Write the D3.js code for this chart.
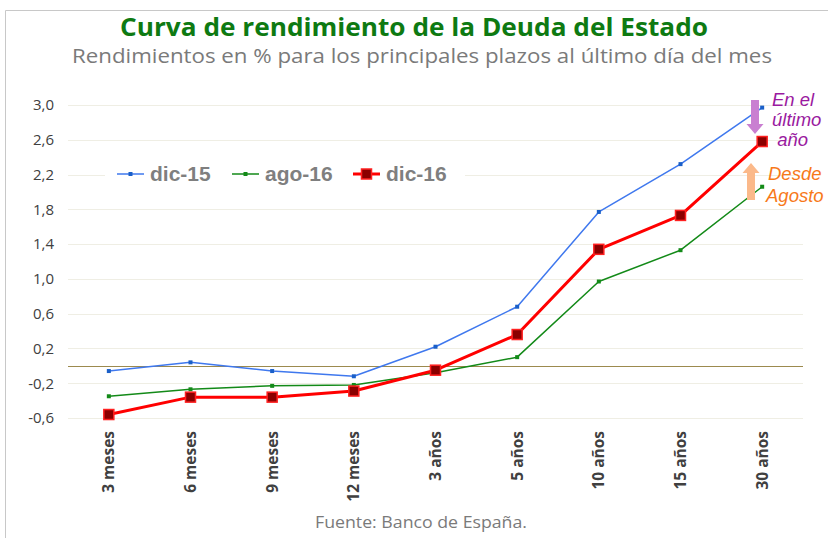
<!DOCTYPE html>
<html>
<head>
<meta charset="utf-8">
<script src="https://cdn.jsdelivr.net/npm/d3@7"></script>
<style>
  body { margin: 0; background: #fff; }
  svg { display: block; }
</style>
</head>
<body>
<div id="chart"></div>
<script>
// plazos y rendimientos (%)
const plazos = ["3 meses", "6 meses", "9 meses", "12 meses", "3 años", "5 años", "10 años", "15 años", "30 años"];
const dic15 = [-0.06, 0.04, -0.06, -0.12, 0.22, 0.68, 1.77, 2.32, 2.97];
const ago16 = [-0.35, -0.27, -0.23, -0.22, -0.08, 0.10, 0.97, 1.33, 2.06];
const dic16 = [-0.56, -0.36, -0.36, -0.29, -0.05, 0.36, 1.34, 1.73, 2.58];
const yTicks = [3.0, 2.6, 2.2, 1.8, 1.4, 1.0, 0.6, 0.2, -0.2, -0.6];

const width = 828, height = 538;
const plot = { left: 68, right: 803, top: 105, bottom: 418 };

const svg = d3.select("#chart").append("svg")
  .attr("width", width)
  .attr("height", height);

// marco
svg.append("path")
  .attr("d", `M5.5,${height} V10.5 H${width}`)
  .attr("fill", "none")
  .attr("stroke", "#c8c8c8")
  .attr("stroke-width", 1);

const x = d3.scaleBand().domain(plazos).range([plot.left, plot.right]);
const y = d3.scaleLinear().domain([-0.6, 3.0]).range([plot.bottom, plot.top]);
const cx = d => x(d) + x.bandwidth() / 2;

// titulos
svg.append("text")
  .attr("x", 414).attr("y", 36)
  .attr("text-anchor", "middle")
  .attr("font-family", "'Open Sans', sans-serif")
  .attr("font-weight", "bold")
  .attr("font-size", 25)
  .attr("textLength", 588)
  .attr("lengthAdjust", "spacingAndGlyphs")
  .attr("fill", "#0e7a12")
  .text("Curva de rendimiento de la Deuda del Estado");

svg.append("text")
  .attr("x", 422).attr("y", 63)
  .attr("text-anchor", "middle")
  .attr("font-family", "'Open Sans', sans-serif")
  .attr("font-size", 20.5)
  .attr("textLength", 700)
  .attr("lengthAdjust", "spacingAndGlyphs")
  .attr("fill", "#7a7a7a")
  .text("Rendimientos en % para los principales plazos al último día del mes");

// rejilla
svg.append("g")
  .selectAll("line")
  .data(yTicks)
  .join("line")
  .attr("x1", plot.left).attr("x2", plot.right)
  .attr("y1", d => Math.round(y(d)) + 0.5)
  .attr("y2", d => Math.round(y(d)) + 0.5)
  .attr("stroke", "#efeee4")
  .attr("stroke-width", 1);

// eje Y
const yAxis = svg.append("g")
  .attr("transform", `translate(${plot.left},0)`)
  .call(d3.axisLeft(y).tickValues(yTicks).tickSize(0).tickPadding(14)
    .tickFormat(d => d3.format(".1f")(d).replace(".", ",").replace("−", "-")));
yAxis.select(".domain").remove();
yAxis.selectAll("text")
  .attr("font-family", "'Open Sans', sans-serif")
  .attr("font-size", 15)
  .attr("fill", "#404040");

// línea de cero
svg.append("line")
  .attr("x1", plot.left).attr("x2", plot.right)
  .attr("y1", Math.round(y(0)) + 0.5).attr("y2", Math.round(y(0)) + 0.5)
  .attr("stroke", "#9c8a4e")
  .attr("stroke-width", 1);

// eje X
const xAxis = svg.append("g")
  .attr("transform", `translate(0,${plot.bottom + 13})`)
  .call(d3.axisBottom(x).tickSize(0).tickPadding(0));
xAxis.select(".domain").remove();
xAxis.selectAll("text")
  .attr("transform", "rotate(-90)")
  .attr("text-anchor", "end")
  .attr("x", 0)
  .attr("y", 0)
  .attr("dx", 0)
  .attr("dy", "0.35em")
  .attr("font-family", "'Open Sans', sans-serif")
  .attr("font-weight", "bold")
  .attr("font-size", 15.5)
  .attr("fill", "#404040");

// leyenda (fondo blanco tapa la rejilla)
const series = [
  { name: "dic-15", values: dic15, color: "#3f78ee", width: 1.5, marker: 4, fill: "#1a5fc8", mstroke: "none" },
  { name: "ago-16", values: ago16, color: "#138a18", width: 1.5, marker: 4, fill: "#138a18", mstroke: "none" },
  { name: "dic-16", values: dic16, color: "#ff0000", width: 3, marker: 10, fill: "#8b0000", mstroke: "#ff2020" }
];

svg.append("rect")
  .attr("x", 105).attr("y", 160).attr("width", 360).attr("height", 28)
  .attr("fill", "#fff");

const legendX = [117, 232, 353];
const legend = svg.append("g").selectAll("g")
  .data(series)
  .join("g")
  .attr("transform", (d, i) => `translate(${legendX[i]},174)`);
legend.append("line")
  .attr("x1", 0).attr("x2", 27)
  .attr("stroke", d => d.color)
  .attr("stroke-width", d => d.width);
legend.append("rect")
  .attr("x", d => 13.5 - d.marker / 2)
  .attr("y", d => -d.marker / 2)
  .attr("width", d => d.marker)
  .attr("height", d => d.marker)
  .attr("fill", d => d.fill)
  .attr("stroke", d => d.mstroke)
  .attr("stroke-width", 1.5);
legend.append("text")
  .attr("x", 33)
  .attr("dy", "0.35em")
  .attr("font-family", "'Liberation Sans', Arial, sans-serif")
  .attr("font-weight", "bold")
  .attr("font-size", 21)
  .attr("fill", "#7f7f7f")
  .text(d => d.name);

// líneas
const line = d3.line()
  .x((d, i) => cx(plazos[i]))
  .y(d => y(d));

const gSeries = svg.append("g").selectAll("g")
  .data(series)
  .join("g");

gSeries.append("path")
  .attr("d", d => line(d.values))
  .attr("fill", "none")
  .attr("stroke", d => d.color)
  .attr("stroke-width", d => d.width)
  .attr("stroke-linejoin", "round");

gSeries.each(function(s) {
  d3.select(this).selectAll("rect")
    .data(s.values)
    .join("rect")
    .attr("x", (d, i) => cx(plazos[i]) - s.marker / 2)
    .attr("y", d => y(d) - s.marker / 2)
    .attr("width", s.marker)
    .attr("height", s.marker)
    .attr("fill", s.fill)
    .attr("stroke", s.mstroke)
    .attr("stroke-width", 1.5);
});

// anotaciones
const arrow = (x0, y0, y1, color) => {
  const dir = Math.sign(y1 - y0);
  const head = 10;
  svg.append("path")
    .attr("d", `M${x0 - 4},${y0} V${y1 - dir * head} H${x0 - 8.5} L${x0},${y1} L${x0 + 8.5},${y1 - dir * head} H${x0 + 4} V${y0} Z`)
    .attr("fill", color);
};
arrow(755, 100, 134, "#c97fd1");
arrow(751, 200, 163, "#fbb98a");

svg.append("text")
  .attr("font-family", "'Liberation Sans', Arial, sans-serif")
  .attr("font-style", "italic")
  .attr("font-size", 18.5)
  .attr("fill", "#9a1aa0")
  .selectAll("tspan")
  .data(["En el", "último", " año"])
  .join("tspan")
  .attr("x", 772)
  .attr("y", (d, i) => 106 + i * 20)
  .text(d => d);

svg.append("text")
  .attr("font-family", "'Liberation Sans', Arial, sans-serif")
  .attr("font-style", "italic")
  .attr("font-size", 18.5)
  .attr("fill", "#f7791a")
  .selectAll("tspan")
  .data(["Desde", "Agosto"])
  .join("tspan")
  .attr("x", (d, i) => i === 0 ? 768 : 766)
  .attr("y", (d, i) => 180 + i * 22)
  .text(d => d);

// fuente
svg.append("text")
  .attr("x", 421).attr("y", 528)
  .attr("text-anchor", "middle")
  .attr("font-family", "'Open Sans', sans-serif")
  .attr("font-size", 16.5)
  .attr("textLength", 212)
  .attr("lengthAdjust", "spacingAndGlyphs")
  .attr("fill", "#7a7a7a")
  .text("Fuente: Banco de España.");
</script>
</body>
</html>
